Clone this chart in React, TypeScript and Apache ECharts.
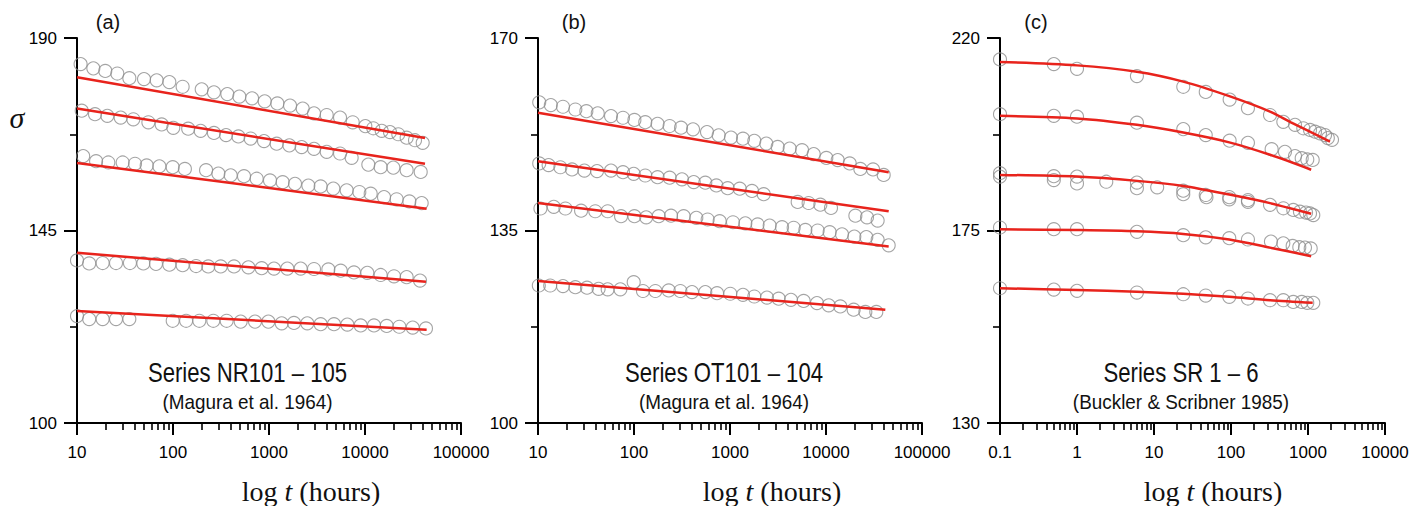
import React, { useEffect, useRef } from "react";
import * as echarts from "echarts";

type P = [number, number];

// ---------- Panel (a): Series NR101 – 105 ----------
const nr1Obs: P[] = [[10.9,183.9],[14.8,182.9],[19.7,182.3],[26.3,181.7],[35.1,180.6],[49.9,180.4],[67.6,180.1],[91.6,179.7],[126,178.6],[199,178.0],[267,177.3],[368,176.9],[491,176.3],[666,175.9],[902,175.2],[1222,174.7],[1656,174.2],[2244,173.5],[2944,172.4],[3990,172.0],[5495,171.4],[7447,170.3],[10080,169.4],[12200,168.9],[14930,168.3],[18200,168.0],[22230,167.5],[27160,166.7],[33190,166.1],[39900,165.5]];
const nr2Obs: P[] = [[11.2,173.0],[15.4,172.2],[20.7,171.8],[28.5,171.4],[38.6,171.0],[55.4,170.3],[76.2,169.8],[100.7,169.0],[144,168.8],[194,168.3],[267,167.8],[357,167.3],[480,167.0],[644,166.5],[887,165.9],[1202,165.3],[1629,164.9],[2188,164.5],[2944,164.1],[3990,163.4],[5495,163.0],[7261,162.0],[10830,160.4],[14560,159.8],[19730,159.7],[27160,159.1],[38040,158.7]];
const nr3Obs: P[] = [[11.6,162.4],[15.8,161.2],[21.2,160.9],[29.9,160.9],[40.2,160.6],[53.2,160.2],[72.1,160.0],[99.3,159.8],[133,159.4],[221,159.1],[297,158.3],[399,157.9],[549,157.7],[744,157.1],[1024,156.7],[1388,156.3],[1866,155.9],[2570,155.5],[3452,155.3],[4677,154.8],[6442,154.4],[8730,154.0],[11460,153.6],[15780,152.8],[21360,152.3],[28970,151.8],[38940,151.4]];
const nr4Obs: P[] = [[10,138.0],[13.4,137.3],[18.5,137.4],[25.5,137.4],[35.6,137.4],[49.1,137.3],[66.5,137.2],[91.6,137.0],[126,136.9],[174,136.7],[233,136.6],[314,136.6],[432,136.6],[610,136.4],[839,136.2],[1127,136.1],[1552,136.1],[2138,136.1],[2944,136.0],[4150,135.9],[5585,135.6],[7674,135.2],[10570,135.1],[14560,134.6],[20050,134.3],[27160,134.1],[37430,133.3]];
const nr5Obs: P[] = [[10,125.0],[13.4,124.3],[18.5,124.3],[25.5,124.3],[35.1,124.3],[99.3,123.9],[137,123.9],[188,123.9],[263,123.9],[362,123.9],[507,123.7],[715,123.7],[985,123.7],[1356,123.3],[1820,123.4],[2506,123.3],[3452,123.1],[4753,123.1],[6546,123.0],[9016,122.8],[12410,122.8],[16830,122.7],[22790,122.5],[31390,122.3],[43150,122.1]];
const nr1Fit: P[] = [[10,180.8],[42170,166.6]];
const nr2Fit: P[] = [[10,173.5],[42170,160.6]];
const nr3Fit: P[] = [[10,160.8],[43850,150.1]];
const nr4Fit: P[] = [[10,139.8],[43150,133.0]];
const nr5Fit: P[] = [[10,126.2],[43850,121.8]];

// ---------- Panel (b): Series OT101 – 104 ----------
const ot1Obs: P[] = [[10.3,158.3],[13.6,157.8],[18.2,157.5],[24.5,157.0],[31.9,156.7],[41.9,156.3],[57.6,155.8],[76.8,155.5],[101,155.1],[131,154.7],[176,154.4],[235,154.0],[309,153.7],[412,153.4],[576,152.9],[762,152.3],[1024,151.9],[1365,151.7],[1791,151.3],[2388,150.8],[3137,150.2],[4188,149.9],[5628,149.6],[7447,148.9],[10080,148.2],[13240,147.8],[17660,147.2],[22790,146.2],[30900,146.1],[39900,145.1]];
const ot2Obs: P[] = [[10.3,147.2],[12.9,146.9],[17.1,146.5],[22.6,146.1],[30.4,145.9],[41.2,145.8],[57.6,145.9],[76.8,145.6],[99.3,145.3],[131,145.0],[176,144.7],[235,144.6],[316,144.3],[419,143.8],[553,143.7],[721,143.2],[946,142.7],[1262,142.6],[1694,142.2],[2244,141.6],[5070,140.2],[6590,140.0],[8730,139.7],[11270,139.1],[20230,137.7],[26730,137.4],[34510,136.8]];
const ot3Obs: P[] = [[10.6,139.0],[14.6,139.3],[19.3,139.0],[28.1,138.6],[39.5,138.5],[53.2,138.5],[73.3,137.6],[101,137.6],[134,137.4],[181,137.6],[243,137.7],[329,137.6],[446,137.3],[585,137.0],[780,136.7],[1074,136.5],[1445,136.3],[1941,136.1],[2588,135.9],[3483,135.6],[4603,135.5],[6095,135.1],[8185,135.0],[10910,134.7],[14680,134.3],[19730,133.9],[26300,133.8],[34510,133.3],[44980,132.3]];
const ot4Obs: P[] = [[10.2,125.0],[13.4,125.0],[18.2,124.9],[24.5,124.7],[32.4,124.6],[42.8,124.4],[53.2,124.3],[72.1,124.3],[99.3,125.6],[124,124.0],[167,124.0],[230,124.1],[304,124.0],[402,123.8],[553,123.8],[733,123.6],[1007,123.5],[1365,123.3],[1791,123.0],[2427,122.8],[3214,122.6],[4315,122.4],[5848,122.2],[8054,121.8],[10670,121.4],[14090,121.2],[19410,120.6],[25700,120.2],[33420,120.2]];
const ot1Fit: P[] = [[10,156.4],[44980,145.6]];
const ot2Fit: P[] = [[10,147.6],[44980,138.5]];
const ot3Fit: P[] = [[10,140.0],[44980,132.1]];
const ot4Fit: P[] = [[10,125.8],[41500,120.6]];

// ---------- Panel (c): Series SR 1 – 6 ----------
const sr1Obs: P[] = [[0.1,215.0],[0.5,213.9],[1,212.8],[6,211.1],[24,208.6],[47,207.4],[96,205.6],[166,203.6],[321,202.0],[478,200.4],[678,199.7],[869,198.9],[1062,198.5],[1233,198.1],[1432,197.7],[1664,197.3],[1810,196.6],[2050,196.2]];
const sr2Obs: P[] = [[0.1,202.2],[0.5,201.8],[1,201.6],[6,200.2],[24,198.7],[47,197.3],[96,196.0],[166,195.5],[337,194.0],[502,193.4],[678,192.4],[828,191.9],[979,191.6],[1151,191.5]];
const sr3Obs: P[] = [[0.1,188.4],[0.1,187.6],[0.5,187.7],[0.5,186.8],[1,187.6],[1,186.0],[2.4,186.4],[6,186.2],[6,184.9],[11,185.1],[24,184.3],[24,183.5],[47,183.3],[48,182.8],[95,182.8],[95,182.3],[166,182.1],[166,181.7],[321,181.0],[478,180.2],[644,179.8],[786,179.4],[943,179.2],[1062,179.0],[1172,178.6]];
const sr4Obs: P[] = [[0.1,175.7],[0.5,175.3],[1,175.3],[6,174.7],[24,173.9],[47,173.4],[95,173.2],[166,172.9],[330,172.4],[478,172.0],[632,171.4],[771,171.1],[914,171.0],[1084,170.8]];
const sr5Obs: P[] = [[0.1,161.5],[0.5,161.2],[1,160.9],[6,160.5],[24,160.1],[47,159.8],[95,159.5],[166,159.1],[321,158.7],[478,158.7],[644,158.3],[828,158.3],[979,158.1],[1172,158.1]];
const sr1Fit: P[] = [[0.1,214.4],[1,213.6],[6,212.1],[24,209.8],[95,206.4],[321,202.8],[600,200.3],[1932,195.8]];
const sr2Fit: P[] = [[0.1,201.8],[1,201.2],[6,199.7],[24,197.9],[95,195.6],[321,192.7],[1100,189.2]];
const sr3Fit: P[] = [[0.1,188.0],[1,187.6],[6,186.6],[24,185.4],[95,183.4],[321,181.4],[1100,178.9]];
const sr4Fit: P[] = [[0.1,175.3],[1,175.1],[6,174.8],[24,174.2],[95,172.9],[321,171.0],[1100,169.0]];
const sr5Fit: P[] = [[0.1,161.5],[1,161.1],[6,160.7],[24,160.2],[95,159.5],[321,158.7],[1150,158.1]];

// ---------- Axis ticks ----------
const decadesAB = [10, 100, 1000, 10000, 100000];
const decadesC = [0.1, 1, 10, 100, 1000, 10000];
const yTicksA = [100, 145, 190];
const yTicksB = [100, 135, 170];
const yTicksC = [130, 175, 220];

const panelLetters = ["(a)", "(b)", "(c)"];
const seriesTitles = ["Series NR101 – 105", "Series OT101 – 104", "Series SR 1 – 6"];
const sources = ["(Magura et al. 1964)", "(Magura et al. 1964)", "(Buckler & Scribner 1985)"];

const SANS = "'Liberation Sans', Arial, Helvetica, sans-serif";
const SERIF = "'Liberation Serif', 'Times New Roman', serif";

function minorTicks(decades: number[]): number[] {
  const out: number[] = [];
  for (let i = 0; i < decades.length - 1; i++) {
    for (let k = 2; k <= 9; k++) out.push(+(decades[i] * k).toPrecision(6));
  }
  return out;
}

function fmt(v: number): string {
  return v < 1 ? String(Number(v.toPrecision(2))) : String(Math.round(v));
}

export default function App() {
  const ref = useRef<HTMLDivElement>(null);

  useEffect(() => {
    if (!ref.current) return;
    const chart = echarts.init(ref.current, undefined, { renderer: "svg" });

    const panels = [
      { left: 77, width: 384, decades: decadesAB, yTicks: yTicksA, obs: [nr1Obs, nr2Obs, nr3Obs, nr4Obs, nr5Obs], fits: [nr1Fit, nr2Fit, nr3Fit, nr4Fit, nr5Fit], smooth: false, letterX: 108, titleX: 247.5, labelX: 311 },
      { left: 538, width: 384, decades: decadesAB, yTicks: yTicksB, obs: [ot1Obs, ot2Obs, ot3Obs, ot4Obs], fits: [ot1Fit, ot2Fit, ot3Fit, ot4Fit], smooth: false, letterX: 574, titleX: 724, labelX: 772 },
      { left: 1000, width: 385, decades: decadesC, yTicks: yTicksC, obs: [sr1Obs, sr2Obs, sr3Obs, sr4Obs, sr5Obs], fits: [sr1Fit, sr2Fit, sr3Fit, sr4Fit, sr5Fit], smooth: 0.3, letterX: 1036, titleX: 1181, labelX: 1213 },
    ];

    const grid: any[] = [];
    const xAxis: any[] = [];
    const yAxis: any[] = [];
    const series: any[] = [];
    const graphic: any[] = [];

    panels.forEach((p, i) => {
      grid.push({ left: p.left, top: 38, width: p.width, height: 385, containLabel: false, outerBoundsMode: "none" });
      const xMin = p.decades[0];
      const xMax = p.decades[p.decades.length - 1];
      xAxis.push({
        type: "log", logBase: 10, gridIndex: i, min: xMin, max: xMax, position: "bottom",
        axisLine: { show: true, onZero: false, lineStyle: { color: "#000", width: 2 } },
        axisTick: { show: true, length: 12, customValues: p.decades, lineStyle: { color: "#000", width: 2 } },
        axisLabel: { show: true, customValues: p.decades, color: "#000", fontSize: 17, fontFamily: SANS, margin: 21, formatter: (v: number) => fmt(v) },
        splitLine: { show: false }, minorTick: { show: false },
      });
      xAxis.push({
        type: "log", logBase: 10, gridIndex: i, min: xMin, max: xMax, position: "bottom",
        axisLine: { show: false, onZero: false },
        axisTick: { show: true, length: 7, customValues: minorTicks(p.decades), lineStyle: { color: "#000", width: 1.6 } },
        axisLabel: { show: false },
        splitLine: { show: false },
      });
      const yMin = p.yTicks[0];
      const yMax = p.yTicks[p.yTicks.length - 1];
      yAxis.push({
        type: "value", gridIndex: i, min: yMin, max: yMax, interval: p.yTicks[1] - p.yTicks[0],
        axisLine: { show: true, onZero: false, lineStyle: { color: "#000", width: 2 } },
        axisTick: { show: true, length: 13, lineStyle: { color: "#000", width: 2 } },
        minorTick: { show: true, splitNumber: 2, length: 7, lineStyle: { color: "#000", width: 1.6 } },
        axisLabel: { color: "#000", fontSize: 17, fontFamily: SANS, margin: 20 },
        splitLine: { show: false },
      });

      p.obs.forEach((d) => {
        series.push({
          type: "scatter", xAxisIndex: 2 * i, yAxisIndex: i, data: d,
          symbol: "circle", symbolSize: 13, z: 2, silent: true,
          itemStyle: { color: "rgba(0,0,0,0)", borderColor: "#8d8d8d", borderWidth: 1.1 },
        });
      });
      p.fits.forEach((d) => {
        series.push({
          type: "line", xAxisIndex: 2 * i, yAxisIndex: i, data: d,
          showSymbol: false, symbol: "none", smooth: p.smooth, z: 5, silent: true,
          lineStyle: { color: "#e8231c", width: 2.5 },
        });
      });

      graphic.push({
        type: "text", x: p.letterX, y: 22,
        style: { text: panelLetters[i], fontFamily: SANS, fontSize: 20, fill: "#111", align: "center", verticalAlign: "middle", textAlign: "center", textVerticalAlign: "middle" },
      });
      graphic.push({
        type: "text", x: p.titleX, y: 373, scaleX: 0.82,
        style: { text: seriesTitles[i], fontFamily: SANS, fontSize: 27, fill: "#111", align: "center", verticalAlign: "middle", textAlign: "center", textVerticalAlign: "middle" },
      });
      graphic.push({
        type: "text", x: p.titleX, y: 402, scaleX: 0.9,
        style: { text: sources[i], fontFamily: SANS, fontSize: 21, fill: "#111", align: "center", verticalAlign: "middle", textAlign: "center", textVerticalAlign: "middle" },
      });
      graphic.push({
        type: "text", x: p.labelX, y: 491,
        style: {
          text: "{r|log }{i|t}{r| (hours)}",
          rich: {
            r: { fontFamily: SERIF, fontSize: 28, fill: "#111" },
            i: { fontFamily: SERIF, fontSize: 28, fontStyle: "italic", fill: "#111" },
          },
          align: "center", verticalAlign: "middle", textAlign: "center", textVerticalAlign: "middle",
        },
      });
    });

    graphic.push({
      type: "text", x: 17, y: 117,
      style: { text: "σ", fontFamily: SERIF, fontSize: 30, fontStyle: "italic", fill: "#111", align: "center", verticalAlign: "middle", textAlign: "center", textVerticalAlign: "middle" },
    });

    chart.setOption({
      animation: false,
      backgroundColor: "#fff",
      grid, xAxis, yAxis, series, graphic,
    });

    return () => chart.dispose();
  }, []);

  return <div ref={ref} style={{ position: "absolute", left: 0, top: 0, width: 1411, height: 506 }} />;
}
